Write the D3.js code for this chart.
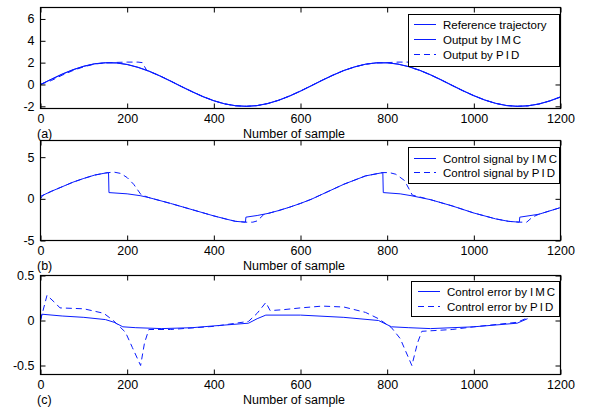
<!DOCTYPE html>
<meta charset="utf-8">
<style>
body { margin: 0; background: #fff; }
svg { font-family: "Liberation Sans", Arial, sans-serif; }
.tick text { font-size: 12.5px; fill: #000; }
.tick line { stroke: #000; }
.lbl { font-size: 12.5px; }
.leg text { font-size: 11.5px; }
</style>
<body>
<svg width="592" height="409"></svg>
<script src="https://cdn.jsdelivr.net/npm/d3@7"></script>
<script>
// ---- data ----
var xTicks = [0, 200, 400, 600, 800, 1000, 1200];

// (a) outputs
var refX = [0,25,50,75,100,125,150,175,200,225,250,275,300,325,350,375,400,425,450,475,500,525,550,575,600,625,650,675,700,725,750,775,800,825,850,875,900,925,950,975,1000,1025,1050,1075,1100,1125,1150,1175,1200];
var refY = [0,0.49,0.96,1.36,1.68,1.90,1.99,1.97,1.82,1.56,1.21,0.78,0.30,-0.20,-0.68,-1.13,-1.50,-1.78,-1.95,-2.00,-1.93,-1.73,-1.43,-1.04,-0.59,-0.10,0.40,0.87,1.29,1.62,1.86,1.98,1.98,1.86,1.62,1.29,0.87,0.40,-0.10,-0.59,-1.04,-1.43,-1.73,-1.93,-2.00,-1.95,-1.78,-1.50,-1.13];
var imcAY = [0,0.46,0.93,1.34,1.66,1.89,1.99,1.98,1.84,1.58,1.24,0.81,0.33,-0.17,-0.65,-1.10,-1.48,-1.77,-1.94,-2.00,-1.94,-1.75,-1.45,-1.07,-0.62,-0.13,0.37,0.84,1.27,1.60,1.85,1.98,1.99,1.87,1.64,1.31,0.90,0.43,-0.07,-0.56,-1.01,-1.41,-1.72,-1.92,-2.00,-1.96,-1.80,-1.52,-1.16];
var pidAX = [0,25,50,75,100,125,150,175,200,225,235,245,275,300,325,350,375,400,425,450,475,500,525,550,575,600,625,650,675,700,725,750,775,800,825,850,862,875,900,925,950,975,1000,1025,1050,1075,1100,1125,1150,1175,1200];
var pidAY = [0,0.36,0.85,1.28,1.62,1.87,1.98,2.02,2.05,2.05,2.0,1.3,0.80,0.32,-0.18,-0.66,-1.11,-1.49,-1.78,-1.95,-2.00,-1.93,-1.74,-1.44,-1.05,-0.60,-0.11,0.39,0.86,1.28,1.61,1.86,1.98,2.00,2.05,2.05,1.45,1.30,0.88,0.41,-0.09,-0.58,-1.03,-1.42,-1.73,-1.93,-2.00,-1.95,-1.79,-1.51,-1.14];

// (b) control signals
var imcBX = [0,25,50,75,100,125,150,157,158,200,230,250,300,350,400,430,450,473,474,500,525,550,575,600,625,650,700,750,790,791,830,855,900,950,1000,1050,1080,1105,1106,1150,1200];
var imcBY = [0.3,0.9,1.45,2.0,2.45,2.85,3.1,3.15,0.75,0.6,0.38,0.15,-0.55,-1.3,-2.05,-2.45,-2.7,-2.8,-2.2,-2.0,-1.75,-1.4,-1.0,-0.55,-0.05,0.55,1.75,2.75,3.15,0.75,0.6,0.38,-0.1,-0.85,-1.7,-2.4,-2.7,-2.8,-2.2,-1.85,-1.05];
var pidBX = [0,5,25,50,75,100,125,150,157,170,185,200,215,232,250,300,350,400,430,450,473,490,500,515,550,575,600,625,650,700,750,790,805,820,840,858,900,950,1000,1050,1080,1105,1122,1135,1150,1200];
var pidBY = [0,0.4,0.9,1.45,2.0,2.45,2.85,3.1,3.15,3.2,3.05,2.55,1.75,0.5,0.15,-0.55,-1.3,-2.05,-2.45,-2.7,-2.8,-2.8,-2.65,-1.9,-1.4,-1.0,-0.55,-0.05,0.55,1.75,2.75,3.15,3.15,2.95,2.2,0.45,-0.1,-0.85,-1.7,-2.4,-2.7,-2.8,-2.8,-2.2,-1.85,-1.05];

// (c) control errors
var imcCX = [0,3,50,100,150,170,190,220,280,350,400,480,500,520,600,700,780,810,850,900,1000,1100,1124];
var imcCY = [0,0.07,0.05,0.035,0.01,-0.02,-0.07,-0.08,-0.09,-0.08,-0.06,-0.03,0.02,0.06,0.06,0.035,0.0,-0.07,-0.08,-0.09,-0.07,-0.03,0.02];
var pidCX = [0,8,15,35,45,100,146,168,196,212,231,240,250,300,400,480,500,520,530,560,600,650,700,750,780,810,830,857,870,880,950,1000,1100,1124];
var pidCY = [0,0.15,0.28,0.19,0.14,0.13,0.08,0.0,-0.13,-0.3,-0.5,-0.25,-0.1,-0.1,-0.065,-0.01,0.08,0.2,0.11,0.12,0.14,0.16,0.15,0.09,0.02,-0.08,-0.2,-0.5,-0.25,-0.12,-0.1,-0.07,-0.02,0.03];

var panels = [
  {top: 7.5, bottom: 108.5, dom: [-2.2, 7.05], ticks: [-2, 0, 2, 4, 6], tag: "(a)",
   series: [[refX, refY, false], [refX, imcAY, false], [pidAX, pidAY, true]],
   legend: {x: 408.5, y: 14.5, w: 151, h: 52, rows: [["Reference trajectory", false], ["Output by ", false, "IMC"], ["Output by ", true, "PID"]], r0: 24.5, dr: 15, lx: 414, tx: 443}},
  {top: 140.5, bottom: 240.5, dom: [-5, 7], ticks: [-5, 0, 5], tag: "(b)",
   series: [[imcBX, imcBY, false], [pidBX, pidBY, true]],
   legend: {x: 408.5, y: 147.5, w: 151, h: 36, rows: [["Control signal by ", false, "IMC"], ["Control signal by ", true, "PID"]], r0: 158.5, dr: 14, lx: 414, tx: 443}},
  {top: 275.5, bottom: 374.5, dom: [-0.6, 0.5], ticks: [-0.5, 0, 0.5], tag: "(c)",
   series: [[imcCX, imcCY, false], [pidCX, pidCY, true]],
   legend: {x: 411.5, y: 281.5, w: 148, h: 35, rows: [["Control error by ", false, "IMC"], ["Control error by ", true, "PID"]], r0: 291.5, dr: 15, lx: 418, tx: 447}}
];

var svg = d3.select("svg");
var x = d3.scaleLinear().domain([0, 1200]).range([40.5, 560.5]);

panels.forEach(function(p) {
  var y = d3.scaleLinear().domain(p.dom).range([p.bottom, p.top]);
  var g = svg.append("g");

  var line = d3.line()
      .x(function(d) { return x(d[0]); })
      .y(function(d) { return y(d[1]); });

  p.series.forEach(function(s) {
    var pts = s[0].map(function(v, i) { return [v, s[1][i]]; });
    g.append("path")
        .attr("d", line(pts))
        .attr("fill", "none")
        .attr("stroke", "#0a1cff")
        .attr("stroke-width", 1)
        .attr("stroke-dasharray", s[2] ? "6,4" : null);
  });

  // axes, ticks pointing inside on every side
  g.append("g").attr("transform", "translate(0," + p.bottom + ")")
      .call(d3.axisBottom(x).tickValues(xTicks).tickSize(-5).tickPadding(6).tickFormat(d3.format("d")));
  g.append("g").attr("transform", "translate(0," + p.top + ")")
      .call(d3.axisTop(x).tickValues(xTicks).tickSize(-5).tickFormat(""));
  g.append("g").attr("transform", "translate(40.5,0)")
      .call(d3.axisLeft(y).tickValues(p.ticks).tickSize(-5).tickPadding(6).tickFormat(function(d) { return d; }));
  g.append("g").attr("transform", "translate(560.5,0)")
      .call(d3.axisRight(y).tickValues(p.ticks).tickSize(-5).tickFormat(""));
  g.selectAll(".domain").remove();

  g.append("rect")
      .attr("x", 40.5).attr("y", p.top)
      .attr("width", 520).attr("height", p.bottom - p.top)
      .attr("fill", "none").attr("stroke", "#000").attr("stroke-width", 1.2);

  g.append("text").attr("class", "lbl")
      .attr("x", 294).attr("y", p.bottom + 29.5)
      .attr("text-anchor", "middle")
      .text("Number of sample");
  g.append("text").attr("class", "lbl")
      .attr("x", 37).attr("y", p.bottom + 29.5)
      .text(p.tag);

  // legend
  var L = p.legend;
  var lg = g.append("g").attr("class", "leg");
  lg.append("rect")
      .attr("x", L.x).attr("y", L.y).attr("width", L.w).attr("height", L.h)
      .attr("fill", "#fff").attr("stroke", "#000").attr("stroke-width", 1);
  L.rows.forEach(function(r, i) {
    var ry = L.r0 + i * L.dr;
    lg.append("line")
        .attr("x1", L.lx).attr("x2", L.lx + 22)
        .attr("y1", ry).attr("y2", ry)
        .attr("stroke", "#0a1cff").attr("stroke-width", 1)
        .attr("stroke-dasharray", r[1] ? "6,4" : null);
    var t = lg.append("text").attr("x", L.tx).attr("y", ry + 4).text(r[0]);
    if (r[2]) t.append("tspan").attr("letter-spacing", "2px").text(r[2]);
  });
});
</script>
</body>
